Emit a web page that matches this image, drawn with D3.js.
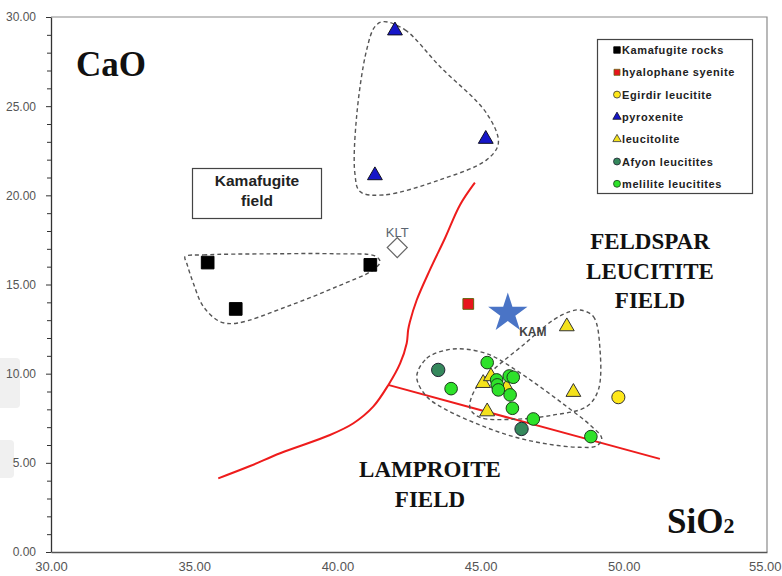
<!DOCTYPE html>
<html>
<head>
<meta charset="utf-8">
<script src="https://cdn.jsdelivr.net/npm/d3@7/dist/d3.min.js"></script>
<style>
    body { margin: 0; background: #fff; }
    svg { display: block; }
</style>
</head>
<body>
<div class="js-chart"></div>
<script>
'use strict';

//sample groups - [SiO2, CaO]
var kamafugiteRocks = [[35.47, 16.23], [36.45, 13.63], [41.15, 16.10]];
var hyalophaneSyenite = [[44.57, 13.91]];
var egirdirLeucitite = [[49.81, 8.68]];
var pyroxenite = [[42.01, 29.32], [45.18, 23.24], [41.31, 21.20]];
var leucitolite = [[45.09, 9.55], [45.36, 9.93], [45.91, 9.31], [45.23, 7.96], [48.01, 12.73], [48.24, 9.05]];
var afyonLeucitites = [[43.52, 10.21], [46.43, 6.90]];
var meliliteLeucitites = [
    [45.23, 10.62], [45.56, 9.65], [45.58, 9.37], [45.62, 9.09], [46.00, 9.87], [46.14, 9.80],
    [46.03, 8.81], [46.11, 8.06], [46.84, 7.46], [43.97, 9.16], [48.85, 6.47]
];
var kamSample = [[45.95, 13.39]];
var kltSample = [[42.09, 17.07]];

//red boundary lines
var boundaryCurve = [
    [35.84, 4.13], [36.95, 4.82], [38.00, 5.54], [39.74, 6.56], [40.56, 7.22], [41.25, 8.15],
    [41.78, 9.37], [42.19, 10.58], [42.42, 11.71], [42.47, 12.45], [42.53, 12.90], [42.77, 14.13],
    [43.23, 15.82], [43.76, 17.61], [44.28, 19.46], [44.80, 20.71]
];
var boundaryLine = [[41.77, 9.37], [51.26, 5.22]];

//dashed group outlines
var pyroxeniteOutline = [
    [41.60, 29.74], [42.36, 29.28], [43.58, 27.22], [45.21, 24.60], [45.62, 22.92], [45.21, 21.99],
    [43.58, 20.87], [41.60, 20.02], [40.79, 20.21], [40.61, 21.24], [40.67, 24.41], [41.02, 28.15],
    [41.31, 29.46]
];
var kamafugiteOutline = [
    [34.68, 16.56], [35.32, 16.66], [37.65, 16.72], [39.98, 16.72], [41.31, 16.60], [41.49, 16.28],
    [41.25, 15.82], [39.98, 14.88], [38.23, 13.76], [36.48, 12.83], [35.90, 12.92], [35.32, 13.76],
    [34.97, 15.07], [34.74, 16.19]
];
var lowerOutline = [
    [42.77, 9.83], [43.12, 10.86], [43.82, 11.33], [44.51, 11.37], [45.33, 11.05], [46.14, 10.30],
    [47.07, 9.27], [48.01, 8.15], [48.82, 7.12], [49.23, 6.38], [49.05, 5.95], [48.47, 5.87],
    [47.31, 6.06], [46.14, 6.47], [44.98, 7.12], [43.82, 7.96], [43.12, 8.71]
];
var upperOutline = [
    [48.47, 13.57], [48.94, 13.20], [49.17, 11.33], [49.11, 9.09], [48.70, 8.15], [47.54, 7.68],
    [46.14, 7.44], [44.98, 7.55], [44.63, 8.06], [44.80, 9.09], [45.44, 10.21], [46.49, 11.61],
    [47.54, 13.01], [48.12, 13.48]
];

//axis ticks
var xTicks = [30, 35, 40, 45, 50, 55];
var yTicks = [0, 5, 10, 15, 20, 25, 30];
var yMinorTicks = d3.range(0, 31).filter(function (v) { return v % 5 !== 0; });

//legend entries
var legendLabels = [
    'Kamafugite rocks', 'hyalophane syenite', 'Egirdir leucitite', 'pyroxenite',
    'leucitolite', 'Afyon leucitites', 'melilite leucitites'
];

var W = 782, H = 576;
var svg = d3.select('.js-chart').append('svg')
    .attr('width', W)
    .attr('height', H)
    .style('font-family', 'Arial, "Liberation Sans", sans-serif');

var x = d3.scaleLinear().domain([30, 55]).range([51, 767]);
var y = d3.scaleLinear().domain([0, 30]).range([552, 17]);

//faint scan marks on the left edge
svg.append('rect').attr('x', -4).attr('y', 358).attr('width', 24).attr('height', 50)
    .attr('rx', 4).style('fill', '#f0f0f0');
svg.append('rect').attr('x', -4).attr('y', 440).attr('width', 18).attr('height', 38)
    .attr('rx', 4).style('fill', '#f0f0f0');

//plot frame - top and right light grey
svg.append('path')
    .attr('d', 'M' + x(30) + ',' + y(30) + 'H' + x(55) + 'V' + y(0))
    .style('fill', 'none')
    .style('stroke', '#8a8a8a')
    .style('stroke-width', 1.2);

//y axis with minor ticks
var yAxis = svg.append('g')
    .attr('transform', 'translate(' + x(30) + ',0)')
    .call(d3.axisLeft(y).tickValues(yTicks).tickFormat(d3.format('.2f'))
        .tickSize(5).tickSizeOuter(0).tickPadding(10));
yAxis.select('.domain').style('stroke', '#333').style('stroke-width', 1.3);
yAxis.selectAll('.tick line').style('stroke', '#333');
yAxis.selectAll('text').style('font-size', '12px').style('fill', '#555');

var yMinor = svg.append('g')
    .attr('transform', 'translate(' + x(30) + ',0)')
    .call(d3.axisLeft(y).tickValues(yMinorTicks).tickFormat('').tickSize(4).tickSizeOuter(0));
yMinor.select('.domain').remove();
yMinor.selectAll('.tick line').style('stroke', '#333');

//x axis - labels only
var xAxis = svg.append('g')
    .attr('transform', 'translate(0,' + y(0) + ')')
    .call(d3.axisBottom(x).tickValues(xTicks).tickFormat(d3.format('.2f'))
        .tickSize(0).tickSizeOuter(0).tickPadding(10));
xAxis.select('.domain').style('stroke', '#555').style('stroke-width', 1.3);
xAxis.selectAll('text').style('font-size', '13px').style('fill', '#555');
//last label sits against the right edge
xAxis.selectAll('text').filter(function (d) { return d === 55; })
    .attr('text-anchor', 'end')
    .attr('x', 14);

var loop = d3.line()
    .x(function (d) { return x(d[0]); })
    .y(function (d) { return y(d[1]); })
    .curve(d3.curveCatmullRomClosed.alpha(0.5));

//red field boundaries
svg.append('path')
    .attr('d', d3.line()
        .x(function (d) { return x(d[0]); })
        .y(function (d) { return y(d[1]); })
        .curve(d3.curveCatmullRom.alpha(0.5))(boundaryCurve))
    .style('fill', 'none')
    .style('stroke', '#ee1c1c')
    .style('stroke-width', 2);
svg.append('path')
    .attr('d', d3.line().x(function (d) { return x(d[0]); }).y(function (d) { return y(d[1]); })(boundaryLine))
    .style('fill', 'none')
    .style('stroke', '#ee1c1c')
    .style('stroke-width', 2);

//dashed outlines round the groups
[pyroxeniteOutline, kamafugiteOutline, lowerOutline, upperOutline].forEach(function (pts) {
    svg.append('path')
        .attr('d', loop(pts))
        .style('fill', 'none')
        .style('stroke', '#555')
        .style('stroke-width', 1.4)
        .style('stroke-dasharray', '4,3');
});

//field labels
function fieldLabel(lines, cx, y0, step) {
    var t = svg.append('text')
        .attr('text-anchor', 'middle')
        .style('font-family', '"Liberation Serif", "Times New Roman", serif')
        .style('font-weight', 'bold')
        .style('font-size', '23px')
        .style('fill', '#111');
    lines.forEach(function (s, i) {
        t.append('tspan').attr('x', cx).attr('y', y0 + i * step).text(s);
    });
}
fieldLabel(['FELDSPAR', 'LEUCITITE', 'FIELD'], 650, 249, 29.5);
fieldLabel(['LAMPROITE', 'FIELD'], 430, 477, 30);

svg.append('text')
    .attr('x', 76).attr('y', 76)
    .style('font-family', '"Liberation Serif", "Times New Roman", serif')
    .style('font-weight', 'bold')
    .style('font-size', '35px')
    .style('fill', '#111')
    .text('CaO');

var sio2 = svg.append('text')
    .attr('x', 667).attr('y', 533)
    .style('font-family', '"Liberation Serif", "Times New Roman", serif')
    .style('font-weight', 'bold')
    .style('font-size', '35px')
    .style('fill', '#111')
    .text('SiO');
sio2.append('tspan').style('font-size', '22px').text('2');

//kamafugite field box
svg.append('rect')
    .attr('x', 192.5).attr('y', 168.5)
    .attr('width', 129).attr('height', 50)
    .style('fill', '#fff')
    .style('stroke', '#444')
    .style('stroke-width', 1.2);
var kf = svg.append('text')
    .attr('text-anchor', 'middle')
    .style('font-weight', 'bold')
    .style('font-size', '15.5px')
    .style('fill', '#222');
kf.append('tspan').attr('x', 257).attr('y', 186).text('Kamafugite');
kf.append('tspan').attr('x', 257).attr('y', 206).text('field');

//marker styles
var styles = [
    { data: kamafugiteRocks, type: d3.symbolSquare, size: 160, fill: '#000', stroke: '#000', lsize: 42 },
    { data: hyalophaneSyenite, type: d3.symbolSquare, size: 115, fill: '#e8141c', stroke: '#661', lsize: 36 },
    { data: egirdirLeucitite, type: d3.symbolCircle, size: 135, fill: '#ffe81a', stroke: '#333', lsize: 38 },
    { data: pyroxenite, type: d3.symbolTriangle, size: 95, fill: '#1616c8', stroke: '#112', lsize: 30 },
    { data: leucitolite, type: d3.symbolTriangle, size: 95, fill: '#f4e21c', stroke: '#333', lsize: 30 },
    { data: afyonLeucitites, type: d3.symbolCircle, size: 140, fill: '#35885c', stroke: '#223', lsize: 38 },
    { data: meliliteLeucitites, type: d3.symbolCircle, size: 125, fill: '#2ee22a', stroke: '#1a3a1a', lsize: 38 }
];

styles.forEach(function (s) {
    svg.append('g').selectAll('path')
        .data(s.data)
        .enter()
        .append('path')
        .attr('d', d3.symbol().type(s.type).size(s.size))
        .attr('transform', function (d) {
            var dy = s.type === d3.symbolTriangle ? 1.5 : 0;
            return 'translate(' + x(d[0]) + ',' + (y(d[1]) + dy) + ')';
        })
        .style('fill', s.fill)
        .style('stroke', s.stroke)
        .style('stroke-width', 1);
});

//KAM star and KLT diamond
svg.append('path')
    .datum(kamSample[0])
    .attr('d', d3.symbol().type(d3.symbolStar).size(480))
    .attr('transform', function (d) { return 'translate(' + x(d[0]) + ',' + y(d[1]) + ')'; })
    .style('fill', '#4a74c6');
svg.append('text')
    .attr('x', x(kamSample[0][0]) + 25).attr('y', y(kamSample[0][1]) + 23)
    .attr('text-anchor', 'middle')
    .style('font-weight', 'bold')
    .style('font-size', '12px')
    .style('fill', '#444')
    .text('KAM');

svg.append('path')
    .datum(kltSample[0])
    .attr('d', d3.symbol().type(d3.symbolSquare).size(200))
    .attr('transform', function (d) { return 'translate(' + x(d[0]) + ',' + y(d[1]) + ') rotate(45)'; })
    .style('fill', '#fff')
    .style('stroke', '#666')
    .style('stroke-width', 1.2);
svg.append('text')
    .attr('x', x(kltSample[0][0])).attr('y', y(kltSample[0][1]) - 11)
    .attr('text-anchor', 'middle')
    .style('font-size', '13px')
    .style('fill', '#5a6470')
    .text('KLT');

//legend
var legend = svg.append('g');
legend.append('rect')
    .attr('x', 597.5).attr('y', 39.5)
    .attr('width', 155).attr('height', 154)
    .style('fill', '#fff')
    .style('stroke', '#444')
    .style('stroke-width', 1.2);
legendLabels.forEach(function (label, i) {
    var s = styles[i];
    var ly = 50 + i * 22.3;
    legend.append('path')
        .attr('d', d3.symbol().type(s.type).size(s.lsize))
        .attr('transform', 'translate(617,' + ly + ')')
        .style('fill', s.fill)
        .style('stroke', s.stroke)
        .style('stroke-width', 0.8);
    legend.append('text')
        .attr('x', 622).attr('y', ly + 4)
        .style('font-weight', 'bold')
        .style('font-size', '11px')
        .style('letter-spacing', '0.6px')
        .style('fill', '#222')
        .text(label);
});
</script>
</body>
</html>
